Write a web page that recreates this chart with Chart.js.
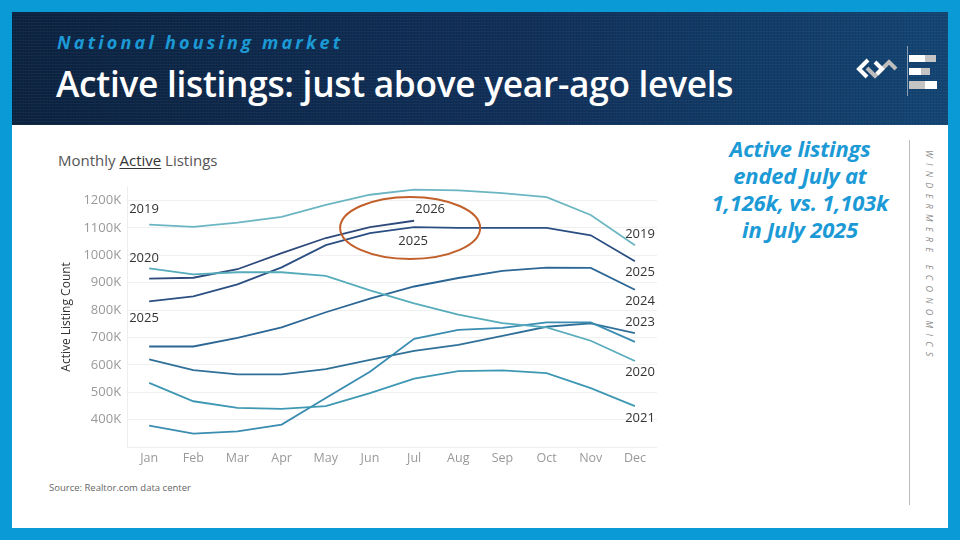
<!DOCTYPE html>
<html>
<head>
<meta charset="utf-8">
<script src="https://cdn.jsdelivr.net/npm/chart.js@4.4.1/dist/chart.umd.min.js"></script>
<style>
  html, body { margin: 0; padding: 0; }
  body { width: 960px; height: 540px; background: #0a9bd7; position: relative; overflow: hidden; font-family: "Open Sans", sans-serif; }
  .page { position: absolute; left: 12px; top: 12px; width: 936px; height: 516px; background: #fff; }
  .header {
    position: absolute; left: 0; top: 0; width: 936px; height: 113px;
    background:
      repeating-linear-gradient(0deg, rgba(255,255,255,0.035) 0 1px, rgba(0,0,0,0) 1px 3px),
      repeating-linear-gradient(90deg, rgba(0,0,0,0.08) 0 1px, rgba(0,0,0,0) 1px 3px),
      linear-gradient(90deg, #0c2341 0%, #10305a 55%, #134574 100%);
  }
  .kicker { position: absolute; left: 45px; top: 18px; color: #1c9ad6; font: italic 700 18px "Open Sans", sans-serif; letter-spacing: 3.2px; }
  .title { position: absolute; left: 44px; top: 47px; color: #fff; font: 600 35.3px "Open Sans", sans-serif; letter-spacing: -0.3px; }
  .chart-title { position: absolute; left: 46px; top: 138px; color: #555; font: 15px "Open Sans", sans-serif; }
  .chart-title u { color: #333; text-underline-offset: 2px; }
  .note { position: absolute; left: 673px; top: 123px; width: 230px; text-align: center; color: #1c9ad6; font: italic 700 22px/27px "Open Sans", sans-serif; letter-spacing: -0.2px; }
  .vline { position: absolute; left: 897px; top: 128px; width: 1px; height: 365px; background: #bbb; }
  .brand { position: absolute; left: 924px; top: 138px; transform-origin: 0 0; transform: rotate(90deg); color: #888; font: italic 9px "Open Sans", sans-serif; letter-spacing: 5.3px; white-space: nowrap; }
  .source { position: absolute; left: 37px; top: 469px; color: #666; font: 9.5px "Open Sans", sans-serif; }
  #wrap { position: absolute; left: 43px; top: 161px; width: 602px; height: 297px; }
  #logo { position: absolute; left: 840px; top: 40px; }
</style>
</head>
<body>
<div class="page">
  <div class="header">
    <div class="kicker">National housing market</div>
    <div class="title">Active listings: just above year-ago levels</div>
  </div>
  <div class="chart-title">Monthly <u>Active</u> Listings</div>
  <div class="note">Active listings<br>ended July at<br>1,126k, vs. 1,103k<br>in July 2025</div>
  <div class="vline"></div>
  <div class="brand">WINDERMERE ECONOMICS</div>
  <div class="source">Source: Realtor.com data center</div>
  <div id="wrap"><canvas id="chart"></canvas></div>
</div>
<canvas id="logo" width="110" height="60"></canvas>
<script>
// Monthly active listings, thousands
const months = ['Jan', 'Feb', 'Mar', 'Apr', 'May', 'Jun', 'Jul', 'Aug', 'Sep', 'Oct', 'Nov', 'Dec'];
const yTicks = [400, 500, 600, 700, 800, 900, 1000, 1100, 1200];

const y2019 = [1112, 1104, 1119, 1140, 1184, 1221, 1240, 1237, 1227, 1212, 1147, 1037];
const y2020 = [952, 930, 938, 938, 925, 872, 824, 783, 752, 737, 688, 614];
const y2021 = [534, 467, 443, 439, 449, 497, 550, 577, 580, 570, 515, 449];
const y2022 = [378, 349, 357, 382, 479, 575, 695, 728, 735, 755, 755, 684];
const y2023 = [620, 581, 565, 565, 584, 618, 651, 673, 706, 739, 751, 716];
const y2024 = [667, 667, 698, 737, 792, 842, 886, 917, 943, 955, 954, 874];
const y2025 = [832, 850, 894, 956, 1037, 1081, 1103, 1100, 1100, 1100, 1073, 978];
const y2026 = [915, 918, 949, 1008, 1063, 1103, 1126];

const colors = {
    '2019': '#6bb6c2', '2020': '#57acbb', '2021': '#3f98b3', '2022': '#3a8cb1',
    '2023': '#2f7099', '2024': '#2b6695', '2025': '#2b4f82', '2026': '#2d4a7b'
};

// where to write the year labels: [year, point index, dx, dy, align]
const yearLabels = [
    ['2019', 0, -20, -15, 'left'], ['2020', 0, -20, -10, 'left'], ['2025', 0, -20, 17, 'left'],
    ['2019', 11, 20, -11, 'right'], ['2025', 11, 20, 11, 'right'], ['2024', 11, 20, 12, 'right'],
    ['2023', 11, 20, -11, 'right'], ['2020', 11, 20, 11, 'right'], ['2021', 11, 20, 12, 'right'],
    ['2026', 6, 16, -11, 'center'], ['2025', 6, -1, 14, 'center']
];

const seriesByYear = { '2019': y2019, '2020': y2020, '2021': y2021, '2022': y2022, '2023': y2023, '2024': y2024, '2025': y2025, '2026': y2026 };

const datasets = Object.keys(seriesByYear).map(year => ({
    label: year,
    data: seriesByYear[year],
    borderColor: colors[year],
    borderWidth: 1.8,
    pointRadius: 0,
    tension: 0,
    fill: false,
}));

// Labels and the ellipse highlight, placed through the scales
const annotations = {
    id: 'annotations',
    afterDatasetsDraw(chart) {
        const ctx = chart.ctx;
        const x = chart.scales.x;
        const y = chart.scales.y;
        ctx.save();
        ctx.font = '13px "Open Sans", sans-serif';
        ctx.fillStyle = '#333';
        ctx.textBaseline = 'middle';
        yearLabels.forEach(([year, i, dx, dy, align]) => {
            ctx.textAlign = align;
            ctx.fillText(year, x.getPixelForValue(i) + dx, y.getPixelForValue(seriesByYear[year][i]) + dy);
        });
        // circle round the July comparison
        ctx.strokeStyle = '#c2602b';
        ctx.lineWidth = 2;
        ctx.beginPath();
        ctx.ellipse(x.getPixelForValue(6) - 4, y.getPixelForValue(1100), 70, 31, 0, 0, Math.PI * 2);
        ctx.stroke();
        ctx.restore();
    }
};

new Chart(document.getElementById('chart'), {
    type: 'line',
    data: { labels: months, datasets: datasets },
    plugins: [annotations],
    options: {
        responsive: true,
        maintainAspectRatio: false,
        animation: false,
        layout: { padding: { top: 2, right: 0, bottom: 0, left: 0 } },
        plugins: { legend: { display: false }, tooltip: { enabled: false } },
        scales: {
            x: {
                offset: true,
                grid: { display: false, drawTicks: false },
                border: { display: true, color: '#eeeeee' },
                ticks: { color: '#999', font: { family: 'Open Sans', size: 12.5 }, padding: 4 },
            },
            y: {
                min: 300,
                max: 1250,
                afterBuildTicks: scale => { scale.ticks = yTicks.map(v => ({ value: v })); },
                grid: { color: '#f0f0f0', drawTicks: false },
                border: { display: true, color: '#eeeeee' },
                title: { display: true, text: 'Active Listing Count', color: '#333', font: { family: 'Open Sans', size: 12 } },
                ticks: { color: '#999', font: { family: 'Open Sans', size: 13 }, padding: 6, callback: v => v + 'K' },
            },
        },
    },
});

// Windermere mark in the header
const lg = document.getElementById('logo').getContext('2d');
lg.lineWidth = 4;
lg.strokeStyle = '#bdbdbd';
lg.beginPath(); lg.moveTo(27, 28); lg.lineTo(35, 36); lg.lineTo(49, 22); lg.lineTo(56, 29); lg.stroke();
lg.strokeStyle = '#ffffff';
lg.beginPath(); lg.moveTo(28, 20); lg.lineTo(19, 29); lg.lineTo(27, 37); lg.stroke();
lg.beginPath(); lg.moveTo(35, 22); lg.lineTo(42, 29); lg.lineTo(37, 34); lg.stroke();
lg.fillStyle = '#8aa0b8';
lg.fillRect(67, 6, 1, 50);
lg.fillStyle = '#ffffff';
lg.fillRect(69, 15, 16, 7); lg.fillRect(69, 28, 12, 7); lg.fillRect(85, 41, 12, 8);
lg.fillStyle = '#c4c4c4';
lg.fillRect(85, 15, 11, 7); lg.fillRect(81, 28, 9, 7); lg.fillRect(69, 41, 16, 8);
</script>
</body>
</html>
